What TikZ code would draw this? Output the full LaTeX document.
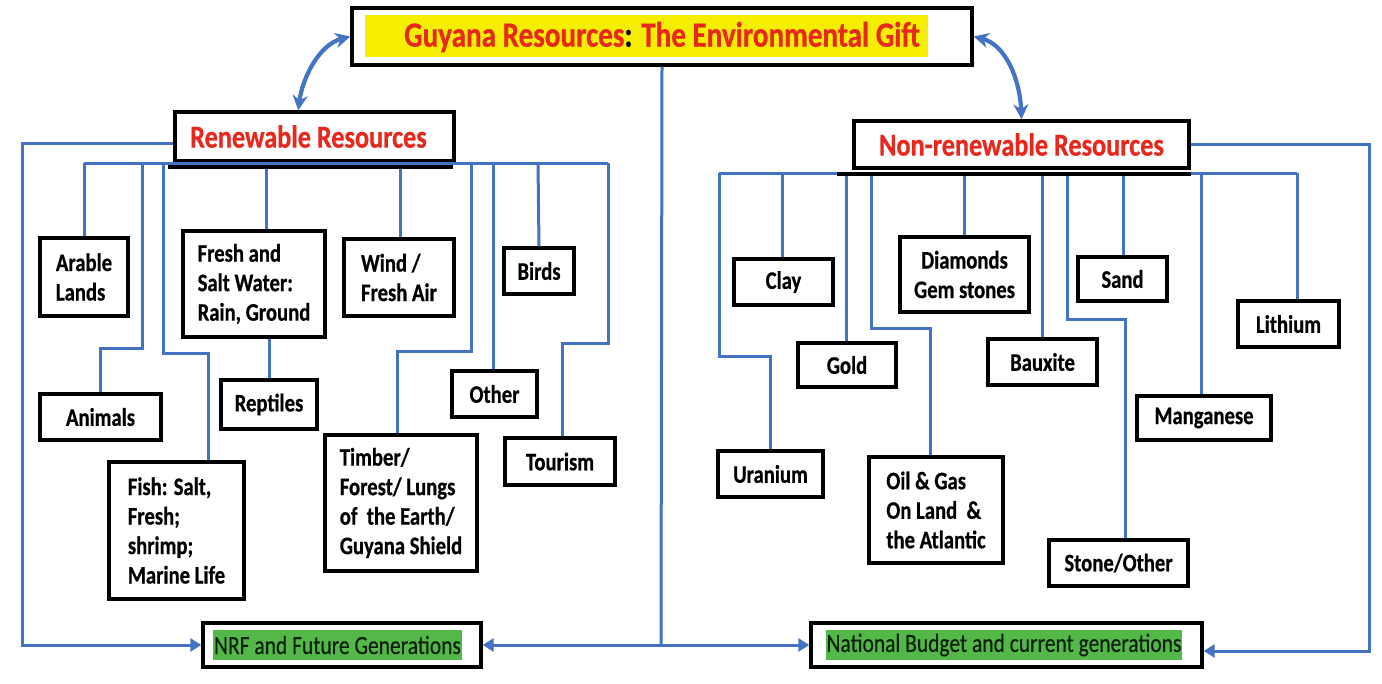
\documentclass[tikz,border=0pt]{standalone}
\usepackage{fontspec}
\setmainfont{Carlito}[FakeStretch=0.82,BoldFeatures={FakeBold=0.6}]
\newfontfamily\hlfont{Carlito}[FakeStretch=0.82,FakeBold=0.35]
\usetikzlibrary{arrows.meta,calc}
\definecolor{lnblue}{RGB}{68,114,196}
\definecolor{ttred}{RGB}{232,40,28}
\definecolor{hiyel}{RGB}{245,238,0}
\definecolor{higrn}{RGB}{84,184,72}
\definecolor{gtxt}{RGB}{12,32,12}
\begin{document}
\begin{tikzpicture}[x=1pt,y=-1pt,
  bx/.style={draw=black,line width=3.4pt,fill=white,inner sep=0pt,align=center,
    font=\fontsize{25.2}{29.5}\selectfont\bfseries},
  lbx/.style={bx,align=left},
  hd/.style={bx,text=ttred,font=\fontsize{32}{36}\selectfont\bfseries},
  hl/.style={inner xsep=1pt,inner ysep=0pt,minimum height=30pt,text=gtxt,
    font=\hlfont\fontsize{26.2}{30}\selectfont},
  ln/.style={draw=lnblue,line width=3pt},
  arr/.style={ln,-{Triangle[length=11pt,width=13pt]}},
  dbl/.style={draw=lnblue,line width=4.2pt,
    {Stealth[length=15pt,width=15pt]}-{Stealth[length=15pt,width=15pt]}},
  bar/.style={draw=black,line width=3.8pt}]
\useasboundingbox (0,0) rectangle (1382,683);

% ---- header nodes
\node[bx,minimum width=620pt,minimum height=57pt] (title) at (662,36.5) {};
\node[fill=hiyel,minimum width=563pt,minimum height=42pt,inner sep=0pt] (titlehl) at (646.5,36) {};
\node[inner sep=0pt,text=ttred,font=\fontsize{35.5}{38}\selectfont\bfseries] (titletxt) at (662,37)
  {Guyana Resources{\color{black}:} The Environmental Gift};
\node[hd,minimum width=279pt,minimum height=49pt] (renew) at (314.5,136.5) {Renewable Resources\hspace*{12pt}};
\node[hd,minimum width=335pt,minimum height=47pt] (nonrenew) at (1021.5,144.5) {Non-renewable Resources};

% ---- bottom nodes
\node[bx,minimum width=278pt,minimum height=44pt] (nrf) at (342,645) {};
\node[hl,fill=higrn] (nrfhl) at (337.5,645) {NRF and Future Generations};
\node[bx,minimum width=391pt,minimum height=44pt] (nb) at (1006.5,645) {};
\node[hl,fill=higrn] (nbhl) at (1004,645) {National Budget and current generations};

% ---- renewable items
\node[lbx,minimum width=88pt,minimum height=78pt] (arable) at (84,277) {Arable\\Lands};
\node[bx,minimum width=121pt,minimum height=46pt] (animals) at (100.5,417) {Animals};
\node[lbx,minimum width=135pt,minimum height=137pt] (fish) at (176.5,530.5) {Fish: Salt,\\Fresh;\\shrimp;\\Marine Life};
\node[lbx,minimum width=142pt,minimum height=106pt] (fresh) at (254,284) {Fresh and\\Salt Water:\\Rain, Ground};
\node[bx,minimum width=96pt,minimum height=49pt] (reptiles) at (269,404.5) {Reptiles};
\node[lbx,minimum width=110pt,minimum height=77pt] (wind) at (399,277.5) {Wind /\\Fresh Air};
\node[lbx,minimum width=152pt,minimum height=136pt] (timber) at (401,503) {Timber/\\Forest/ Lungs\\of\ \ the Earth/\\Guyana Shield};
\node[bx,minimum width=85pt,minimum height=46pt] (other) at (494.5,394) {Other};
\node[bx,minimum width=70pt,minimum height=46pt] (birds) at (539,271) {Birds};
\node[bx,minimum width=110pt,minimum height=47pt] (tourism) at (560,461.5) {Tourism};

% ---- non-renewable items
\node[bx,minimum width=99pt,minimum height=46pt] (clay) at (783.5,282) {Clay};
\node[bx,minimum width=98pt,minimum height=44pt] (gold) at (847,365) {Gold};
\node[bx,minimum width=105pt,minimum height=46pt] (uranium) at (770.5,474) {Uranium};
\node[bx,minimum width=129pt,minimum height=75pt] (diamonds) at (964.5,274.5) {Diamonds\\Gem stones};
\node[lbx,minimum width=134pt,minimum height=106pt] (oil) at (936,510) {Oil \& Gas\\On Land\ \ \&\\the Atlantic};
\node[bx,minimum width=109pt,minimum height=46pt] (bauxite) at (1042.5,362) {Bauxite};
\node[bx,minimum width=89pt,minimum height=44pt] (sand) at (1122.5,279) {Sand};
\node[bx,minimum width=139pt,minimum height=46pt] (stone) at (1118.5,563) {Stone/Other};
\node[bx,minimum width=134pt,minimum height=44pt] (manganese) at (1204,418) {Manganese};
\node[bx,minimum width=101pt,minimum height=46pt] (lithium) at (1288.5,324) {Lithium};

% ---- curved double arrows
\draw[dbl] (title.west) .. controls (318,45) and (302,80) .. ($(renew.north west)+(125,0)$);
\draw[dbl] (title.east) .. controls (1006,45) and (1020,80) .. (nonrenew.north);

% ---- centre line to the two budgets
\coordinate (jc) at (661,645);
\draw[ln] (title.south) -- (jc);
\draw[arr] (jc) -- (nrf.east);
\draw[arr] (jc) -- (nb.west);

% ---- outer lines
\coordinate (lo) at (22,645);
\draw[arr] ($(renew.west)+(0,6.5)$) -| (lo) -- (nrf.west);
\coordinate (ro) at (1369,651);
\draw[arr] (nonrenew.east) -| (ro) -- (ro -| nb.east);

% ---- renewable bus and drops
\coordinate (rb1) at (84,163);
\coordinate (rb2) at (142,163);
\coordinate (rb3) at (163,163);
\coordinate (rb4) at (266,163);
\coordinate (rb5) at (400,163);
\coordinate (rb6) at (471,163);
\coordinate (rb7) at (493,163);
\coordinate (rb8) at (538,163);
\coordinate (rb9) at (608,163);
\draw[ln] (rb1) -- (rb9);
\draw[ln] (rb1) -- (arable.north);
\draw[ln] (rb2) -- ++(0,185) -| (animals.north);
\draw[ln] (rb3) -- ++(0,190) -| ($(fish.north)+(31.5,0)$);
\draw[ln] (rb4) -- (rb4 |- fresh.north);
\draw[ln] (fresh.south -| reptiles.north) -- (reptiles.north);
\draw[ln] (rb5) -- (rb5 |- wind.north);
\draw[ln] (rb6) -- ++(0,188) -| ($(timber.north)+(-4,0)$);
\draw[ln] (rb7) -- (rb7 |- other.north);
\draw[ln] (rb8) -- (birds.north);
\draw[ln] (rb9) -- ++(0,180) -| ($(tourism.north)+(2,0)$);

% ---- non-renewable bus and drops
\coordinate (nb1) at (719,173);
\coordinate (nb2) at (782,173);
\coordinate (nb3) at (846,173);
\coordinate (nb4) at (871,173);
\coordinate (nb5) at (964,173);
\coordinate (nb6) at (1042,173);
\coordinate (nb7) at (1067,173);
\coordinate (nb8) at (1123,173);
\coordinate (nb9) at (1201,173);
\coordinate (nb10) at (1297,173);
\draw[ln] (nb1) -- (nb10);
\draw[ln] (nb1) -- ++(0,183) -| (uranium.north);
\draw[ln] (nb2) -- (nb2 |- clay.north);
\draw[ln] (nb3) -- (nb3 |- gold.north);
\draw[ln] (nb4) -- ++(0,155) -| ($(oil.north)+(-6,0)$);
\draw[ln] (nb5) -- (nb5 |- diamonds.north);
\draw[ln] (nb6) -- (nb6 |- bauxite.north);
\draw[ln] (nb7) -- ++(0,146) -| ($(stone.north)+(6.5,0)$);
\draw[ln] (nb8) -- (nb8 |- sand.north);
\draw[ln] (nb9) -- (nb9 |- manganese.north);
\draw[ln] (nb10) -- (nb10 |- lithium.north);

% ---- dark bars under the two header boxes
\draw[bar] ($(renew.south west)+(-5,4)$) -- ($(renew.south east)+(-3,4)$);
\draw[bar] ($(nonrenew.south west)+(-15,4)$) -- ($(nonrenew.south east)+(0,4)$);
\end{tikzpicture}
\end{document}
